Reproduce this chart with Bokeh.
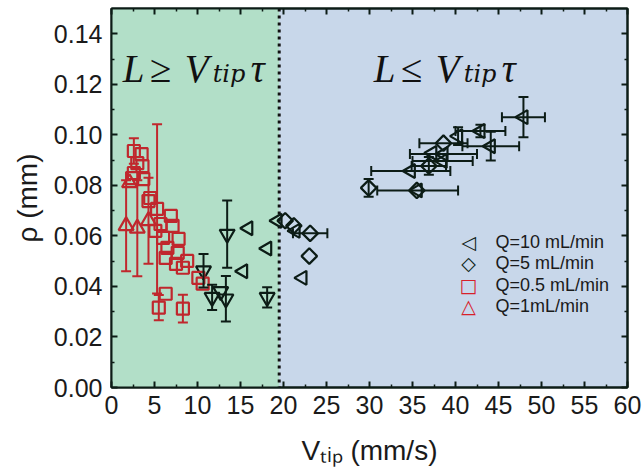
import math
from bokeh.plotting import figure
from bokeh.models import (ColumnDataSource, Whisker, TeeHead, BoxAnnotation, Span, Label,
                          LinearAxis, FixedTicker, NumeralTickFormatter, Range1d)
from bokeh.embed import file_html
from bokeh.resources import INLINE

# ---------------- data ----------------
# Q = 10 mL/min  (left-pointing triangles)
q10_x = [15.9, 15.3, 18.1, 19.3, 21.4, 22.2, 34.8, 35.6, 37.3, 38.6, 38.5, 40.3, 42.9, 44.1, 47.9]
q10_y = [0.063, 0.046, 0.055, 0.066, 0.062, 0.0434, 0.0857, 0.078, 0.0928, 0.0924, 0.0896, 0.0995, 0.1015, 0.0955, 0.107]
q10_xerr = [0, 0, 0, 0, 0, 0, 4.6, 4.7, 0, 3.9, 3.5, 0, 2.9, 3.3, 2.5]
q10_yerr = [0, 0, 0, 0, 0, 0, 0, 0, 0, 0, 0, 0.0035, 0.0025, 0.0057, 0.008]

# Q = 5 mL/min  (diamonds)
q5_x = [20.2, 21.2, 23.1, 23.0, 29.9, 35.5, 36.9, 38.6]
q5_y = [0.066, 0.064, 0.061, 0.052, 0.079, 0.078, 0.0877, 0.0967]
q5_xerr = [0, 0, 2.0, 0, 0, 0, 2.0, 2.8]
q5_yerr = [0, 0, 0, 0, 0.0035, 0, 0.0035, 0]

# Q = 0.5 mL/min  (squares)
q05_x = [2.6, 3.5, 3.0, 3.6, 2.6, 3.7, 2.4, 4.3, 4.5, 5.3, 6.9, 7.1, 5.7, 5.1, 6.0, 7.8, 6.5,
         7.7, 6.3, 8.8, 7.5, 8.3, 10.1, 10.6, 6.3, 5.5, 8.3]
q05_y = [0.0936, 0.0924, 0.0888, 0.0876, 0.0849, 0.0825, 0.0829, 0.0738, 0.075, 0.0707, 0.0679,
         0.064, 0.0647, 0.062, 0.0592, 0.0588, 0.0553, 0.0533, 0.0513, 0.0501, 0.0489, 0.0474,
         0.0434, 0.0411, 0.0371, 0.0316, 0.0312]
q05_yerr = [0.005, 0, 0, 0, 0, 0, 0, 0, 0, 0.0335, 0, 0, 0, 0, 0, 0, 0,
            0, 0, 0, 0, 0, 0, 0, 0, 0.005, 0.0055]

# Q = 1 mL/min  (up triangles)
q1_x = [2.1, 1.7, 3.0, 4.3]
q1_y = [0.081, 0.064, 0.063, 0.066]
q1_yerr = [0, 0.018, 0.019, 0.017]

# unlabeled series (down triangles)
qd_x = [13.45, 10.7, 11.7, 13.3, 12.7, 18.1]
qd_y = [0.0607, 0.0462, 0.0357, 0.0351, 0.038, 0.0357]
qd_yerr = [0.0133, 0.0066, 0.005, 0.009, 0, 0.004]

regime_boundary = 19.5
x_ticks = list(range(0, 61, 5))
y_ticks = [0.00, 0.02, 0.04, 0.06, 0.08, 0.10, 0.12, 0.14]
x_title = "V\u209c\u1d62\u209a (mm/s)"
y_title = "\u03c1 (mm)"
legend_labels = ["Q=10 mL/min", "Q=5 mL/min", "Q=0.5 mL/min", "Q=1mL/min"]
legend_keys = ["\u25c1", "\u25c7", "\u25a1", "\u25b3"]

# ---------------- style ----------------
DARK = "#0c1c16"
RED = "#c0272d"
KEYRED = "#d7202a"
GREEN = "#b2dfc8"
BLUE = "#c8d7ea"
TXT = "#1a1a1a"
SANS = "Liberation Sans"
SERIF = "Liberation Serif"

p = figure(width=642, height=474,
           x_range=Range1d(0, 60), y_range=Range1d(0, 0.15),
           output_backend="svg", toolbar_location=None,
           min_border_left=111, min_border_right=15, min_border_top=8, min_border_bottom=87,
           background_fill_color=BLUE, border_fill_color="white")
p.xgrid.visible = False
p.ygrid.visible = False
p.outline_line_color = DARK
p.outline_line_width = 2

p.add_layout(BoxAnnotation(right=regime_boundary, fill_color=GREEN, fill_alpha=1.0,
                           line_color=None, level="underlay"))
p.add_layout(Span(location=regime_boundary, dimension="height", line_color="#111111",
                  line_width=3, line_dash="3 4", level="underlay"))

xt = FixedTicker(ticks=x_ticks, minor_ticks=[t + 2.5 for t in x_ticks[:-1]])
yt = FixedTicker(ticks=y_ticks, minor_ticks=[t + 0.01 for t in y_ticks])


def style_axis(ax, ticker):
    ax.ticker = ticker
    ax.major_tick_in = 6
    ax.major_tick_out = 0
    ax.minor_tick_in = 3
    ax.minor_tick_out = 0
    ax.major_tick_line_color = DARK
    ax.major_tick_line_width = 2
    ax.minor_tick_line_color = DARK
    ax.minor_tick_line_width = 1.5
    ax.axis_line_color = DARK
    ax.axis_line_width = 2
    ax.major_label_text_font = SANS
    ax.major_label_text_font_size = "25px"
    ax.major_label_text_color = TXT


style_axis(p.xaxis[0], xt)
style_axis(p.yaxis[0], yt)
p.yaxis[0].formatter = NumeralTickFormatter(format="0.00")
p.xaxis[0].major_label_standoff = 8
p.yaxis[0].major_label_standoff = 9
for ax, title in ((p.xaxis[0], x_title), (p.yaxis[0], y_title)):
    ax.axis_label = title
    ax.axis_label_text_font = SANS
    ax.axis_label_text_font_style = "normal"
    ax.axis_label_text_font_size = "28px"
    ax.axis_label_text_color = TXT
p.yaxis[0].axis_label_standoff = 8
p.xaxis[0].axis_label_standoff = 18

top = LinearAxis()
right = LinearAxis()
style_axis(top, xt)
style_axis(right, yt)
for ax, ticks in ((top, x_ticks), (right, y_ticks)):
    ax.major_label_overrides = {t: "" for t in ticks}
    ax.major_label_text_font_size = "1px"
    ax.major_label_standoff = 0
p.add_layout(top, "above")
p.add_layout(right, "right")


def add_errors(xs, ys, xerr, yerr, color):
    if yerr is not None:
        idx = [i for i, e in enumerate(yerr) if e > 0]
        src = ColumnDataSource(dict(x=[xs[i] for i in idx],
                                    lo=[ys[i] - yerr[i] for i in idx],
                                    hi=[ys[i] + yerr[i] for i in idx]))
        p.add_layout(Whisker(source=src, base="x", lower="lo", upper="hi", dimension="height",
                             line_color=color, line_width=2, level="glyph",
                             upper_head=TeeHead(size=10, line_color=color, line_width=2),
                             lower_head=TeeHead(size=10, line_color=color, line_width=2)))
    if xerr is not None:
        idx = [i for i, e in enumerate(xerr) if e > 0]
        src = ColumnDataSource(dict(y=[ys[i] for i in idx],
                                    lo=[xs[i] - xerr[i] for i in idx],
                                    hi=[xs[i] + xerr[i] for i in idx]))
        p.add_layout(Whisker(source=src, base="y", lower="lo", upper="hi", dimension="width",
                             line_color=color, line_width=2, level="glyph",
                             upper_head=TeeHead(size=10, line_color=color, line_width=2),
                             lower_head=TeeHead(size=10, line_color=color, line_width=2)))


add_errors(qd_x, qd_y, None, qd_yerr, DARK)
add_errors(q10_x, q10_y, q10_xerr, q10_yerr, DARK)
add_errors(q5_x, q5_y, q5_xerr, q5_yerr, DARK)

p.scatter(qd_x, qd_y, marker="inverted_triangle", size=15, fill_color=None,
          line_color=DARK, line_width=2.2)
p.scatter(q10_x, q10_y, marker="triangle", angle=math.pi / 2, size=14, fill_color=None,
          line_color=DARK, line_width=2.2)
p.scatter(q5_x, q5_y, marker="square", angle=math.pi / 4, size=11, fill_color=None,
          line_color=DARK, line_width=2.2)

add_errors(q05_x, q05_y, None, q05_yerr, RED)
add_errors(q1_x, q1_y, None, q1_yerr, RED)

p.scatter(q05_x, q05_y, marker="square", size=12, fill_color=None,
          line_color=RED, line_width=2.2)
p.scatter(q1_x, q1_y, marker="triangle", size=15, fill_color=None,
          line_color=RED, line_width=2.2)

# legend (key symbols + labels), offsets in px from the frame's lower-left corner
key_colors = [DARK, DARK, KEYRED, KEYRED]
row_offsets = [146, 125, 103, 82]
for key, lab, col, dy in zip(legend_keys, legend_labels, key_colors, row_offsets):
    p.add_layout(Label(x=0, y=0, x_offset=357, y_offset=dy, text=key, text_font="DejaVu Sans",
                       text_font_style="bold", text_font_size="19px", text_color=col,
                       text_align="center", text_baseline="middle"))
    p.add_layout(Label(x=0, y=0, x_offset=384, y_offset=dy, text=lab, text_font=SANS,
                       text_font_size="18px", text_color=TXT,
                       text_align="left", text_baseline="middle"))

# regime annotations  L >= V_tip tau  /  L <= V_tip tau
regime_x = [1.3, 30.5]
regime_y = 0.1263
relations = ["\u2265", "\u2264"]
for rx, rel in zip(regime_x, relations):
    parts = [("L", 0, 0, 39, "italic", SERIF),
             (rel, 27, 0, 39, "normal", SERIF),
             ("V", 62, 0, 39, "italic", SERIF),
             ("tip", 90, -6, 24, "italic", "DejaVu Serif"),
             ("\u03c4", 128, 0, 39, "italic", SERIF)]
    for t, dx, dy, fs, st, fnt in parts:
        p.add_layout(Label(x=rx, y=regime_y, x_offset=dx, y_offset=dy, text=t, text_font=fnt,
                           text_font_size=f"{fs}px", text_font_style=st, text_color="#111111",
                           text_baseline="alphabetic", text_align="left"))

open("out.html", "w").write(file_html(p, INLINE))
